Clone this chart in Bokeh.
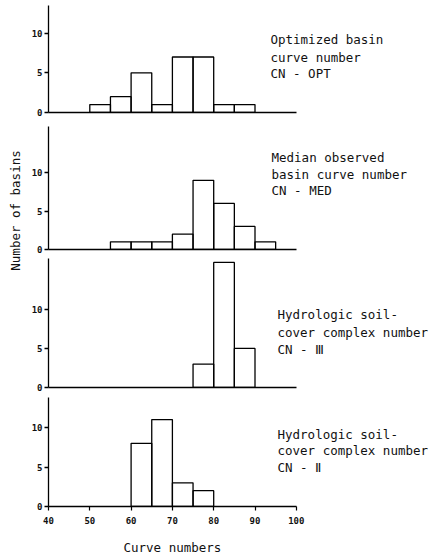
import math
from bokeh.plotting import figure
from bokeh.layouts import column, row
from bokeh.models import Range1d, FixedTicker
from bokeh.core.properties import value
from bokeh.embed import file_html
from bokeh.resources import INLINE

# ---- data ----
bin_left = [40, 45, 50, 55, 60, 65, 70, 75, 80, 85, 90, 95]
bin_width = 5
cn_opt = [0, 0, 1, 2, 5, 1, 7, 7, 1, 1, 0, 0]
cn_med = [0, 0, 0, 1, 1, 1, 2, 9, 6, 3, 1, 0]
cn_iii = [0, 0, 0, 0, 0, 0, 0, 3, 16, 5, 0, 0]
cn_ii = [0, 0, 0, 0, 8, 11, 3, 2, 0, 0, 0, 0]
y_ticks = [0, 5, 10]
x_ticks = [40, 50, 60, 70, 80, 90, 100]
x_tick_labels = ["40", "50", "60", "70", "80", "90", "100"]
lines_opt = ["Optimized basin", "curve number", "CN - OPT"]
lines_med = ["Median observed", "basin curve number", "CN - MED"]
lines_iii = ["Hydrologic soil-", "cover complex number", "CN - Ⅲ"]
lines_ii = ["Hydrologic soil-", "cover complex number", "CN - Ⅱ"]
y_title = "Number of basins"
x_title = "Curve numbers"

FONT = "DejaVu Sans Mono"
PXU = 4.13  # px per x unit
STRIP_W = 24
PANEL_W = 431 - STRIP_W
L = 24
FW = PANEL_W - L
X_END = 40 + FW / PXU

# counts, lines, top border, frame height, bottom border, y top, text x, text ys
panels = [
    (cn_opt, lines_opt, 5, 107, 8, 13.5, 93.75, [9.24, 6.96, 4.94]),
    (cn_med, lines_med, 6, 123, 6, 16.0, 94.0, [11.95, 9.74, 7.66]),
    (cn_iii, lines_iii, 3, 129, 5, 16.5, 95.45, [9.36, 7.05, 4.87]),
    (cn_ii, lines_ii, 5, 109, 29, 13.8, 95.45, [9.1, 7.1, 4.9]),
]

figs = []
for i, (counts, lines, T, FH, B, ytop, tx, tys) in enumerate(panels):
    p = figure(frame_width=FW, frame_height=FH, output_backend="svg",
               toolbar_location=None,
               x_range=Range1d(40, X_END), y_range=Range1d(0, ytop),
               min_border_left=L, min_border_right=0, min_border_top=T,
               min_border_bottom=B)
    p.outline_line_color = None
    p.grid.visible = False
    p.background_fill_color = None
    p.border_fill_color = None

    lefts = [b for b, c in zip(bin_left, counts) if c > 0]
    rights = [b + bin_width for b, c in zip(bin_left, counts) if c > 0]
    tops = [c for c in counts if c > 0]
    p.quad(left=lefts, right=rights, bottom=0, top=tops,
           fill_alpha=0, line_color="black", line_width=1.3)

    p.text(x=[tx] * len(lines), y=tys, text=lines,
           text_font=value(FONT), text_font_size="12.5px",
           text_baseline="middle", text_align="left", text_color="#111111")

    ya = p.yaxis[0]
    ya.ticker = FixedTicker(ticks=y_ticks)
    ya.major_tick_out = 4
    ya.major_tick_in = 0
    ya.minor_tick_line_color = None
    ya.axis_line_width = 1.3
    ya.major_tick_line_width = 1.3
    ya.axis_line_color = "black"
    ya.major_label_text_font = FONT
    ya.major_label_text_font_style = "bold"
    ya.major_label_text_font_size = "9px"
    ya.major_label_standoff = 2
    ya.major_label_text_color = "#111111"

    xa = p.xaxis[0]
    xa.bounds = (40, 100)
    xa.axis_line_width = 1.3
    xa.axis_line_color = "black"
    xa.minor_tick_line_color = None
    xa.major_tick_line_width = 1.2
    xa.major_tick_in = 0
    xa.major_tick_out = 4
    if i < 3:
        xa.ticker = FixedTicker(ticks=[])
        xa.major_label_standoff = 0
    else:
        xa.ticker = FixedTicker(ticks=x_ticks)
        xa.major_label_overrides = {t: s for t, s in zip(x_ticks, x_tick_labels)}
        xa.major_label_text_font = FONT
        xa.major_label_text_font_style = "bold"
        xa.major_label_text_font_size = "9px"
        xa.major_label_standoff = 6
        xa.major_label_text_color = "#111111"
    figs.append(p)

# bottom strip with the x axis title
bf = figure(frame_width=FW, frame_height=22, output_backend="svg",
            toolbar_location=None, x_range=Range1d(40, X_END),
            y_range=Range1d(0, 1), min_border_left=L, min_border_right=0,
            min_border_top=0, min_border_bottom=0)
bf.axis.visible = False
bf.grid.visible = False
bf.outline_line_color = None
bf.text(x=[70.0], y=[0.45], text=[x_title], text_font=value(FONT),
        text_font_size="12.5px", text_align="center", text_baseline="middle",
        text_color="#111111")
figs.append(bf)

# left strip with the vertical axis title
lf = figure(width=STRIP_W, height=557, output_backend="svg", toolbar_location=None,
            x_range=Range1d(0, 1), y_range=Range1d(0, 1),
            min_border_left=0, min_border_right=0, min_border_top=0,
            min_border_bottom=0)
lf.axis.visible = False
lf.grid.visible = False
lf.outline_line_color = None
lf.text(x=[0.62], y=[0.623], text=[y_title], angle=math.pi / 2,
        text_font=value(FONT), text_font_size="12.5px", text_align="center",
        text_baseline="middle", text_color="#111111")

layout = row(lf, column(*figs, spacing=0), spacing=0)

open("out.html", "w").write(file_html(layout, INLINE))
